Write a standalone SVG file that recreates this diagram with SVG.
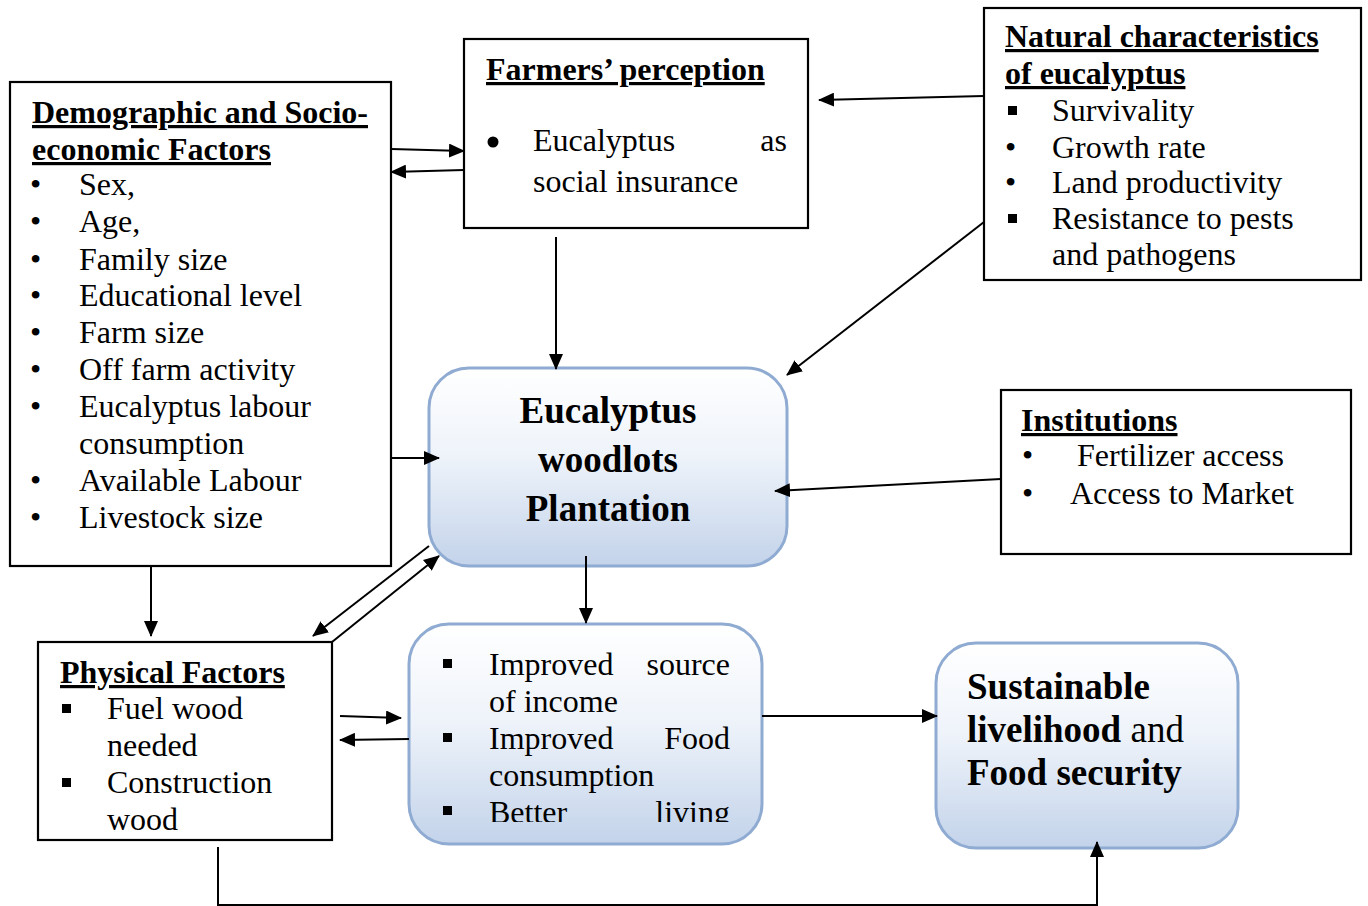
<svg xmlns="http://www.w3.org/2000/svg" width="1368" height="906" viewBox="0 0 1368 906">
<style>
.box{fill:#fff;stroke:#000;stroke-width:2.2}
.rbox{fill:url(#g);stroke:#8fabd2;stroke-width:3}
text{font-family:"Liberation Serif","Times New Roman",serif;font-size:32px;fill:#000}
.h{font-weight:bold;text-decoration:underline}
.b{font-weight:bold;font-size:37px}
.c{stroke:#000;stroke-width:2;fill:none}
</style>
<defs>
<linearGradient id="g" x1="0" y1="0" x2="0" y2="1">
<stop offset="0" stop-color="#ffffff"/>
<stop offset="0.45" stop-color="#eef3fa"/>
<stop offset="1" stop-color="#c3d3ea"/>
</linearGradient>
<marker id="a" markerUnits="userSpaceOnUse" markerWidth="16" markerHeight="14" refX="15" refY="7" orient="auto">
<path d="M0,0 L16,7 L0,14 Z" fill="#000"/>
</marker>
<clipPath id="clipImp"><rect x="409" y="624" width="353" height="198"/></clipPath>
</defs>

<g id="demographic">
<rect class="box" x="10" y="82" width="381" height="484"/>
<text class="h" x="32" y="123">Demographic and Socio-</text>
<text class="h" x="32" y="160">economic Factors</text>
<text x="30" y="195">•</text><text x="79" y="195">Sex,</text>
<text x="30" y="232">•</text><text x="79" y="232">Age,</text>
<text x="30" y="270">•</text><text x="79" y="270">Family size</text>
<text x="30" y="306">•</text><text x="79" y="306">Educational level</text>
<text x="30" y="343">•</text><text x="79" y="343">Farm size</text>
<text x="30" y="380">•</text><text x="79" y="380">Off farm activity</text>
<text x="30" y="417">•</text><text x="79" y="417">Eucalyptus labour</text>
<text x="79" y="454">consumption</text>
<text x="30" y="491">•</text><text x="79" y="491">Available Labour</text>
<text x="30" y="528">•</text><text x="79" y="528">Livestock size</text>
</g>

<g id="perception">
<rect class="box" x="464" y="39" width="344" height="189"/>
<text class="h" x="486" y="80">Farmers’ perception</text>
<circle cx="493" cy="142" r="5.5" fill="#000"/>
<text x="533" y="151">Eucalyptus</text>
<text x="787" y="151" text-anchor="end">as</text>
<text x="533" y="192">social insurance</text>
</g>

<g id="natural">
<rect class="box" x="984" y="8" width="377" height="272"/>
<text class="h" x="1005" y="47">Natural characteristics</text>
<text class="h" x="1005" y="84">of eucalyptus</text>
<rect x="1008" y="106" width="9" height="9" fill="#000"/>
<text x="1052" y="121">Survivality</text>
<text x="1005" y="158">•</text><text x="1052" y="158">Growth rate</text>
<text x="1005" y="193">•</text><text x="1052" y="193">Land productivity</text>
<rect x="1008" y="214" width="9" height="9" fill="#000"/>
<text x="1052" y="229">Resistance to pests</text>
<text x="1052" y="265">and pathogens</text>
</g>

<g id="plantation">
<rect class="rbox" x="429" y="368" width="358" height="198" rx="40"/>
<text class="b" x="608" y="423" text-anchor="middle">Eucalyptus</text>
<text class="b" x="608" y="472" text-anchor="middle">woodlots</text>
<text class="b" x="608" y="521" text-anchor="middle">Plantation</text>
</g>

<g id="institutions">
<rect class="box" x="1001" y="390" width="350" height="164"/>
<text class="h" x="1021" y="431">Institutions</text>
<text x="1022" y="466">•</text><text x="1077" y="466">Fertilizer access</text>
<text x="1022" y="504">•</text><text x="1070" y="504">Access to Market</text>
</g>

<g id="physical">
<rect class="box" x="38" y="642" width="294" height="198"/>
<text class="h" x="60" y="683">Physical Factors</text>
<rect x="62" y="704" width="9" height="9" fill="#000"/>
<text x="107" y="719">Fuel wood</text>
<text x="107" y="756">needed</text>
<rect x="62" y="778" width="9" height="9" fill="#000"/>
<text x="107" y="793">Construction</text>
<text x="107" y="830">wood</text>
</g>

<g id="outcomes">
<rect class="rbox" x="409" y="624" width="353" height="220" rx="40"/>
<g clip-path="url(#clipImp)">
<rect x="443" y="659" width="9" height="9" fill="#000"/>
<text x="489" y="675">Improved</text>
<text x="730" y="675" text-anchor="end">source</text>
<text x="489" y="712">of income</text>
<rect x="443" y="733" width="9" height="9" fill="#000"/>
<text x="489" y="749">Improved</text>
<text x="730" y="749" text-anchor="end">Food</text>
<text x="489" y="786">consumption</text>
<rect x="443" y="806" width="9" height="9" fill="#000"/>
<text x="489" y="823">Better</text>
<text x="730" y="823" text-anchor="end">living</text>
</g>
</g>

<g id="sustainable">
<rect class="rbox" x="936" y="643" width="302" height="205" rx="40"/>
<text class="b" x="967" y="699">Sustainable</text>
<text class="b" x="967" y="742">livelihood <tspan font-weight="normal">and</tspan></text>
<text class="b" x="967" y="785">Food security</text>
</g>

<g id="connectors">
<line class="c" x1="391" y1="149" x2="464" y2="151" marker-end="url(#a)"/>
<line class="c" x1="464" y1="170" x2="391" y2="172" marker-end="url(#a)"/>
<line class="c" x1="984" y1="96" x2="819" y2="100" marker-end="url(#a)"/>
<line class="c" x1="556" y1="237" x2="556" y2="369" marker-end="url(#a)"/>
<line class="c" x1="984" y1="222" x2="787" y2="375" marker-end="url(#a)"/>
<line class="c" x1="392" y1="458" x2="439" y2="458" marker-end="url(#a)"/>
<line class="c" x1="1001" y1="479" x2="775" y2="491" marker-end="url(#a)"/>
<line class="c" x1="151" y1="567" x2="151" y2="636" marker-end="url(#a)"/>
<line class="c" x1="429" y1="546" x2="313" y2="636" marker-end="url(#a)"/>
<line class="c" x1="332" y1="642" x2="439" y2="556" marker-end="url(#a)"/>
<line class="c" x1="586" y1="556" x2="586" y2="623" marker-end="url(#a)"/>
<line class="c" x1="340" y1="716" x2="401" y2="718" marker-end="url(#a)"/>
<line class="c" x1="409" y1="739" x2="340" y2="740" marker-end="url(#a)"/>
<line class="c" x1="762" y1="716" x2="937" y2="716" marker-end="url(#a)"/>
<polyline class="c" points="218,847 218,905 1097,905 1097,842" marker-end="url(#a)"/>
</g>
</svg>
